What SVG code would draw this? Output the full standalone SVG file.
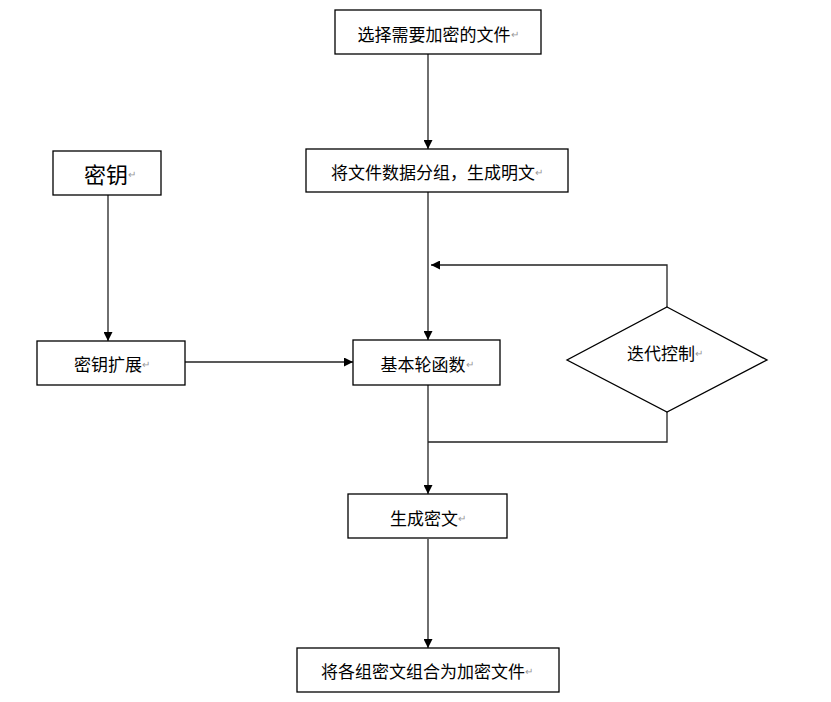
<svg xmlns="http://www.w3.org/2000/svg" width="831" height="702" viewBox="0 0 831 702">
<style>
.box{fill:#fff;stroke:#000;stroke-width:1.3}
.t{font-family:"Noto Sans CJK SC","Liberation Sans",sans-serif;font-size:17px;fill:#000;text-anchor:middle;dominant-baseline:central}
.r{fill:#999;font-size:10px}
.ln{fill:none;stroke:#222;stroke-width:1.3}
</style>
<defs>
<marker id="ah" viewBox="0 0 10 10" refX="10" refY="5" markerWidth="10" markerHeight="9" markerUnits="userSpaceOnUse" orient="auto">
<path d="M0,0 L10,5 L0,10 z" fill="#000"/>
</marker>
</defs>
<rect width="831" height="702" fill="#fff"/>
<g id="connectors">
<line class="ln" x1="428" y1="54" x2="428" y2="149" marker-end="url(#ah)"/>
<line class="ln" x1="428" y1="192" x2="428" y2="340" marker-end="url(#ah)"/>
<line class="ln" x1="108" y1="195" x2="108" y2="341" marker-end="url(#ah)"/>
<line class="ln" x1="185" y1="362" x2="353" y2="362" marker-end="url(#ah)"/>
<polyline class="ln" points="667,307 667,265 431,265" marker-end="url(#ah)"/>
<polyline class="ln" points="667,412 667,442 428,442"/>
<line class="ln" x1="428" y1="385" x2="428" y2="494" marker-end="url(#ah)"/>
<line class="ln" x1="428" y1="539" x2="428" y2="648" marker-end="url(#ah)"/>
</g>
<g id="n1"><rect class="box" x="335" y="10" width="206" height="44"/><text class="t" x="438" y="33">选择需要加密的文件<tspan class="r">↵</tspan></text></g>
<g id="n2"><rect class="box" x="306" y="149" width="262" height="43"/><text class="t" x="437" y="171">将文件数据分组，生成明文<tspan class="r">↵</tspan></text></g>
<g id="n3"><rect class="box" x="53" y="151" width="108" height="44"/><text class="t" x="110" y="173" style="font-size:22px">密钥<tspan class="r">↵</tspan></text></g>
<g id="n4"><rect class="box" x="37" y="341" width="148" height="44"/><text class="t" x="112" y="363">密钥扩展<tspan class="r">↵</tspan></text></g>
<g id="n5"><rect class="box" x="353" y="340" width="147" height="45"/><text class="t" x="427" y="363">基本轮函数<tspan class="r">↵</tspan></text></g>
<g id="n6"><polygon class="box" points="667,307 767,360 667,412 567,360"/><text class="t" x="665" y="352">迭代控制<tspan class="r">↵</tspan></text></g>
<g id="n7"><rect class="box" x="348" y="494" width="159" height="44"/><text class="t" x="428" y="517">生成密文<tspan class="r">↵</tspan></text></g>
<g id="n8"><rect class="box" x="297" y="648" width="262" height="44"/><text class="t" x="427" y="670">将各组密文组合为加密文件<tspan class="r">↵</tspan></text></g>
</svg>
